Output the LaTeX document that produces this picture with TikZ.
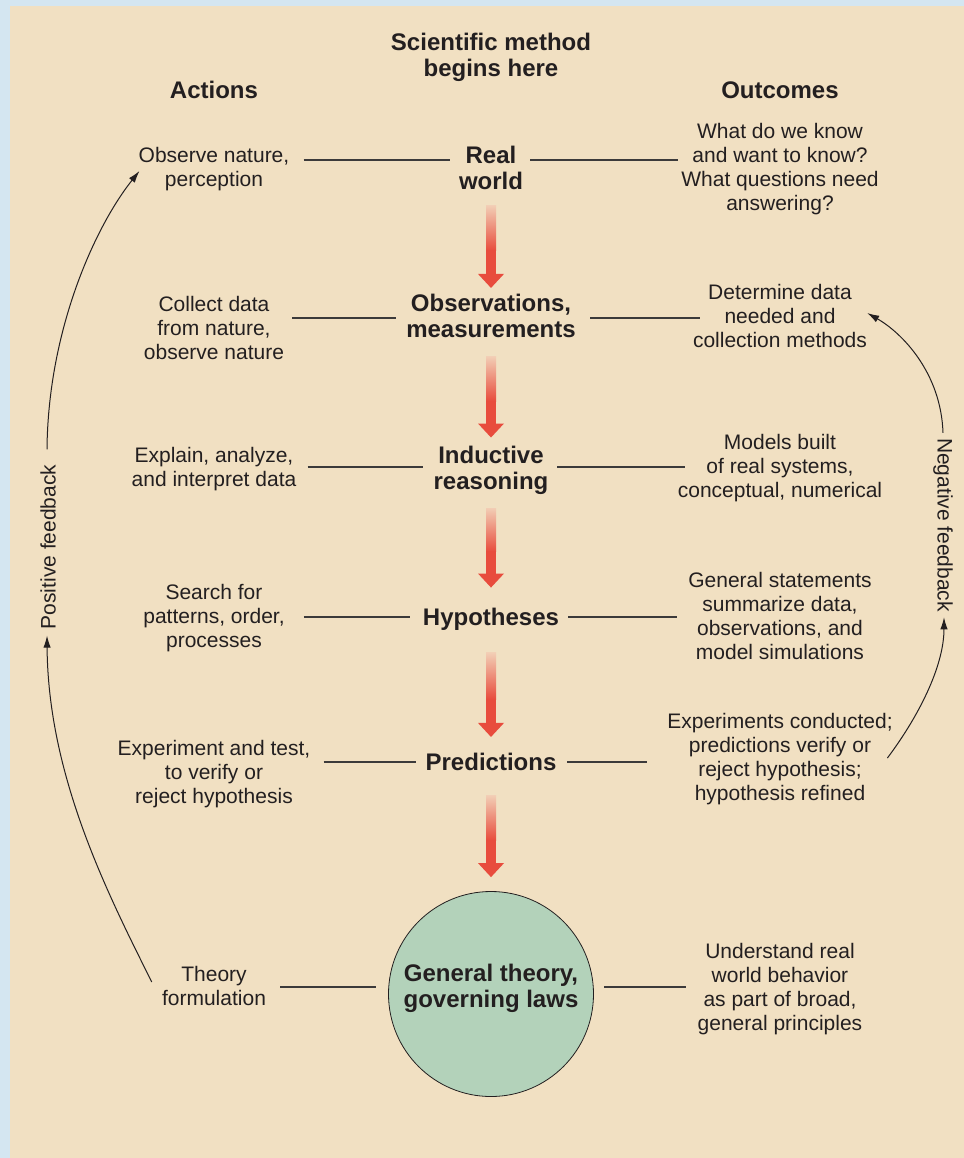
\documentclass[tikz,border=0pt]{standalone}
\usepackage{fontspec}
\setmainfont{Liberation Sans}
\usetikzlibrary{arrows.meta,calc}
\definecolor{bgblue}{HTML}{D4E6F1}
\definecolor{beige}{HTML}{F1E0C2}
\definecolor{circ}{HTML}{B3D2BA}
\definecolor{ared}{HTML}{E84C3D}
\definecolor{alight}{HTML}{F2CDB4}
\definecolor{ink}{HTML}{231F20}
\definecolor{rulec}{HTML}{3C3A3A}
\newcommand\redarrow[2]{%
  \path #1 coordinate (ras) #2 coordinate (rat);
  \shade[top color=alight, bottom color=ared] ($(ras)+(-5,0)$) rectangle ($(ras)!0.55!(rat)+(5,0)$);
  \fill[ared] ($(ras)!0.55!(rat)+(-5,-0.5)$) rectangle ($(rat)+(5,-13)$);
  \fill[ared] ($(rat)+(-13,-14)$) -- ($(rat)+(13,-14)$) -- (rat) -- cycle;
}
\tikzset{
  body/.style={font=\fontsize{15.75}{18}\selectfont, text=ink, align=center, inner sep=0pt},
  head/.style={font=\bfseries\fontsize{18}{19.5}\selectfont, text=ink, align=center, inner sep=0pt},
  link/.style={draw=rulec, line width=0.9pt},
  fb/.style={draw=ink, line width=0.75pt, -{Latex[length=9pt,width=5.5pt]}},
}
\begin{document}
\begin{tikzpicture}[x=0.75pt,y=-0.75pt]
\useasboundingbox (0,0) rectangle (964,1158);
\fill[bgblue] (0,0) rectangle (964,1158);
\fill[beige] (10,6) rectangle (964,1158);

% headings
\node[head] (title) at (491,57) {Scientific method\\begins here};
\node[head] (actions) at (214,90) {Actions};
\node[head] (outcomes) at (780,90) {Outcomes};

% centre column
\node[head] (c1) at (491,168) {Real\\world};
\node[head] (c2) at (491,316) {Observations,\\measurements};
\node[head] (c3) at (491,470) {Inductive\\reasoning};
\node[head] (c4) at (491,619) {Hypotheses};
\node[head] (c5) at (491,762) {Predictions};
\node[circle, draw=ink, line width=0.6pt, fill=circ, minimum size=153.75pt, inner sep=0pt,
      label={[head, yshift=4.5pt]center:{General theory,\\governing laws}}] (gt) at (491,994) {};

% actions
\node[body] (l1) at (214,169) {Observe nature,\\perception};
\node[body] (l2) at (214,328) {Collect data\\from nature,\\observe nature};
\node[body] (l3) at (214,469) {Explain, analyze,\\and interpret data};
\node[body] (l4) at (214,618.5) {Search for\\patterns, order,\\processes};
\node[body] (l5) at (214,774.5) {Experiment and test,\\to verify or\\reject hypothesis};
\node[body] (l6) at (214,986) {Theory\\formulation};

% outcomes
\node[body] (r1) at (780,169) {What do we know\\and want to know?\\What questions need\\answering?};
\node[body] (r2) at (780,316) {Determine data\\needed and\\collection methods};
\node[body] (r3) at (780,468.5) {Models built\\of real systems,\\conceptual, numerical};
\node[body] (r4) at (780,616) {General statements\\summarize data,\\observations, and\\model simulations};
\node[body] (r5) at (780,759) {Experiments conducted;\\predictions verify or\\reject hypothesis;\\hypothesis refined};
\node[body] (r6) at (780,989.5) {Understand real\\world behavior\\as part of broad,\\general principles};

% feedback labels
\node[body, rotate=90] (pf) at (48,547) {Positive feedback};
\node[body, rotate=-90] (nf) at (943,525) {Negative feedback};

% row heights
\coordinate (row1) at (0,160);
\coordinate (row2) at (0,318);
\coordinate (row3) at (0,467);
\coordinate (row4) at (0,617);
\coordinate (row5) at (0,762);
\coordinate (row6) at (0,987);

% horizontal connectors
\draw[link] ($(l1.east|-row1)+(14,0)$) -- ($(c1.west|-row1)+(-9,0)$);
\draw[link] ($(c1.east|-row1)+(7,0)$) -- ($(r1.west|-row1)+(-3,0)$);
\draw[link] ($(l2.east|-row2)+(8,0)$) -- ($(c2.west|-row2)+(-10.5,0)$);
\draw[link] ($(c2.east|-row2)+(14.5,0)$) -- ($(r2.west|-row2)+(7,0)$);
\draw[link] ($(l3.east|-row3)+(11,0)$) -- ($(c3.west|-row3)+(-10.5,0)$);
\draw[link] ($(c3.east|-row3)+(8.5,0)$) -- ($(r3.west|-row3)+(7.5,0)$);
\draw[link] ($(l4.east|-row4)+(19,0)$) -- ($(c4.west|-row4)+(-13,0)$);
\draw[link] ($(c4.east|-row4)+(9,0)$) -- ($(r4.west|-row4)+(-11,0)$);
\draw[link] ($(l5.east|-row5)+(13,0)$) -- ($(c5.west|-row5)+(-9.5,0)$);
\draw[link] ($(c5.east|-row5)+(10.5,0)$) -- ($(r5.west|-row5)+(-20.5,0)$);
\draw[link] ($(l6.east|-row6)+(14,0)$) -- ($(gt.west|-row6)+(-12.5,0)$);
\draw[link] ($(gt.east|-row6)+(10.5,0)$) -- ($(r6.west|-row6)+(-11.5,0)$);

% red arrows
\redarrow{($(c1.south)+(0,15.5)$)}{($(c2.north)+(0,-6)$)}
\redarrow{($(c2.south)+(0,18.5)$)}{($(c3.north)+(0,-8)$)}
\redarrow{($(c3.south)+(0,13.5)$)}{($(c4.north)+(0,-20)$)}
\redarrow{($(c4.south)+(0,22.5)$)}{($(c5.north)+(0,-16)$)}
\redarrow{($(c5.south)+(0,24.5)$)}{($(gt.north)+(0,-14)$)}

% feedback curves
\draw[fb] ($(l6.west)+(-10,-4)$) .. controls +(-45,-90) and +(1,140) .. ($(pf.west)+(-1,6)$);
\draw[fb] ($(pf.east)+(-1,-15)$) .. controls +(1,-120) and +(-44,55) .. ($(l1.west)+(1,2)$);
\draw[fb] ($(r5.east)+(-5.5,-1)$) .. controls +(30,-40) and +(0,50) .. ($(nf.east)+(1,5)$);
\draw[fb] ($(nf.west)+(0,-5)$) .. controls +(-2,-60) and +(35,20) .. ($(r2.east)+(0,-3)$);
\end{tikzpicture}
\end{document}
